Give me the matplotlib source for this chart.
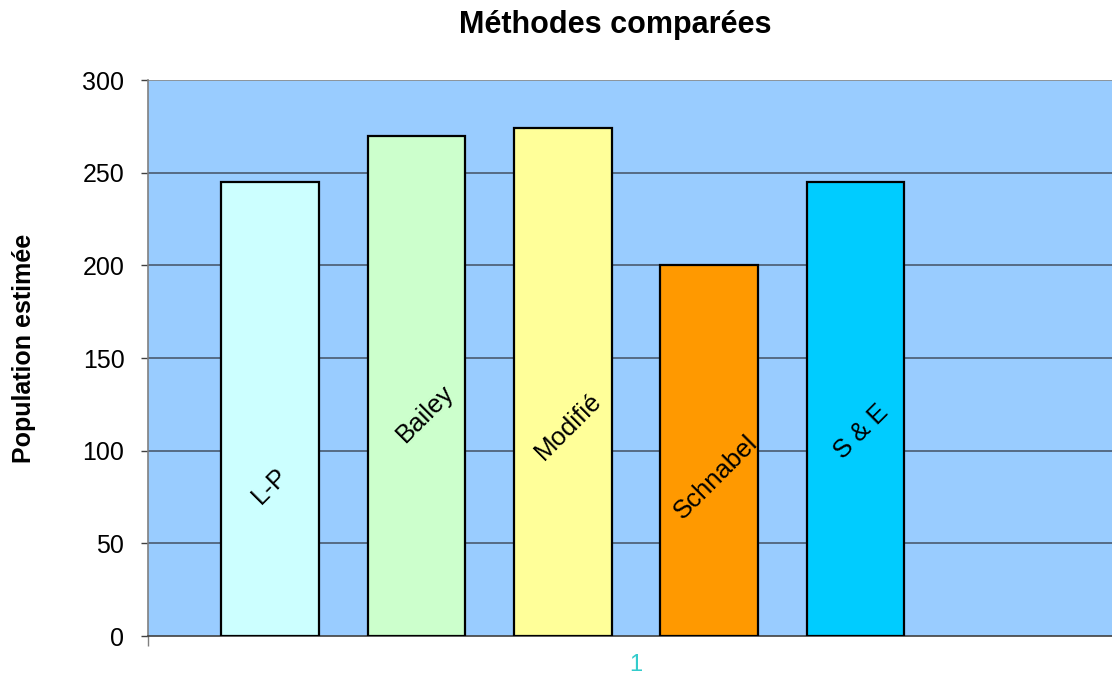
import matplotlib
matplotlib.use("Agg")
import matplotlib.pyplot as plt
from matplotlib.ticker import FixedLocator
from matplotlib.transforms import offset_copy

plt.rcParams['font.family'] = ['Liberation Sans', 'DejaVu Sans']

# Data
methods = ["L-P", "Bailey", "Modifié", "Schnabel", "S & E"]
estimates = [245, 270, 274, 200, 245]
colors = ["#CCFFFF", "#CCFFCC", "#FFFF99", "#FF9900", "#00CCFF"]
category = ["1"]
y_ticks = [0, 50, 100, 150, 200, 250, 300]

# Placement of each rotated series label inside its bar:
# height in data units, horizontal nudge in points
label_heights = [81, 120, 113, 86, 110]
label_nudge_pt = [0, 6, 4, 5, 4]

fig = plt.figure(figsize=(11.12, 6.77), dpi=100)
fig.patch.set_facecolor("white")
left, right = 148 / 1112, 1.0
bottom, top = 1 - 636 / 677, 1 - 80 / 677
ax = fig.add_axes([left, bottom, right - left, top - bottom])
ax.set_facecolor("#99CCFF")

n_slots = len(methods) + 1
step = 0.150
width = 0.100
xs = [1 + (i - (n_slots - 1) / 2) * step for i in range(len(methods))]

ax.set_xlim(0.5, 0.5 + (1112 - 148) / 976)
ax.set_ylim(0, 300)

# Gridlines
for t in y_ticks[1:]:
    ax.axhline(t, color="#4A5A70" if t < 300 else "#8A8A8A", lw=1.2, zorder=1)

ax.bar(xs, estimates, width=width, color=colors, edgecolor="black",
       linewidth=1.6, zorder=3)

for x, name, h, dx in zip(xs, methods, label_heights, label_nudge_pt):
    tr = offset_copy(ax.transData, fig=fig, x=dx, y=0, units="points")
    ax.text(x, h, name, rotation=45, ha="center", va="center", transform=tr,
            fontsize=18.5, color="black", zorder=4, rotation_mode="anchor")

ax.yaxis.set_major_locator(FixedLocator(y_ticks))
ax.tick_params(axis="y", direction="out", length=5, width=1, color="#404040",
               labelsize=18, pad=12)
ax.set_xticks([1])
ax.set_xticklabels(category, color="#33CCCC", fontsize=17)
ax.tick_params(axis="x", length=0, pad=13)
ax.xaxis.set_minor_locator(FixedLocator([0.5]))
ax.tick_params(axis="x", which="minor", direction="out", length=7, width=1,
               color="#808080")

for s in ["top", "right"]:
    ax.spines[s].set_visible(False)
ax.spines["left"].set_color("#808080")
ax.spines["left"].set_linewidth(1.2)
ax.spines["bottom"].set_color("#404040")
ax.spines["bottom"].set_linewidth(1.2)

fig.text(615 / 1112, 1 - 25 / 677, "Méthodes comparées", ha="center",
         va="center", fontsize=22, fontweight="bold")
fig.text(24 / 1112, 1 - 348 / 677, "Population estimée", rotation=90,
         ha="center", va="center", fontsize=18, fontweight="bold")

fig.savefig("out.png", dpi=100)
